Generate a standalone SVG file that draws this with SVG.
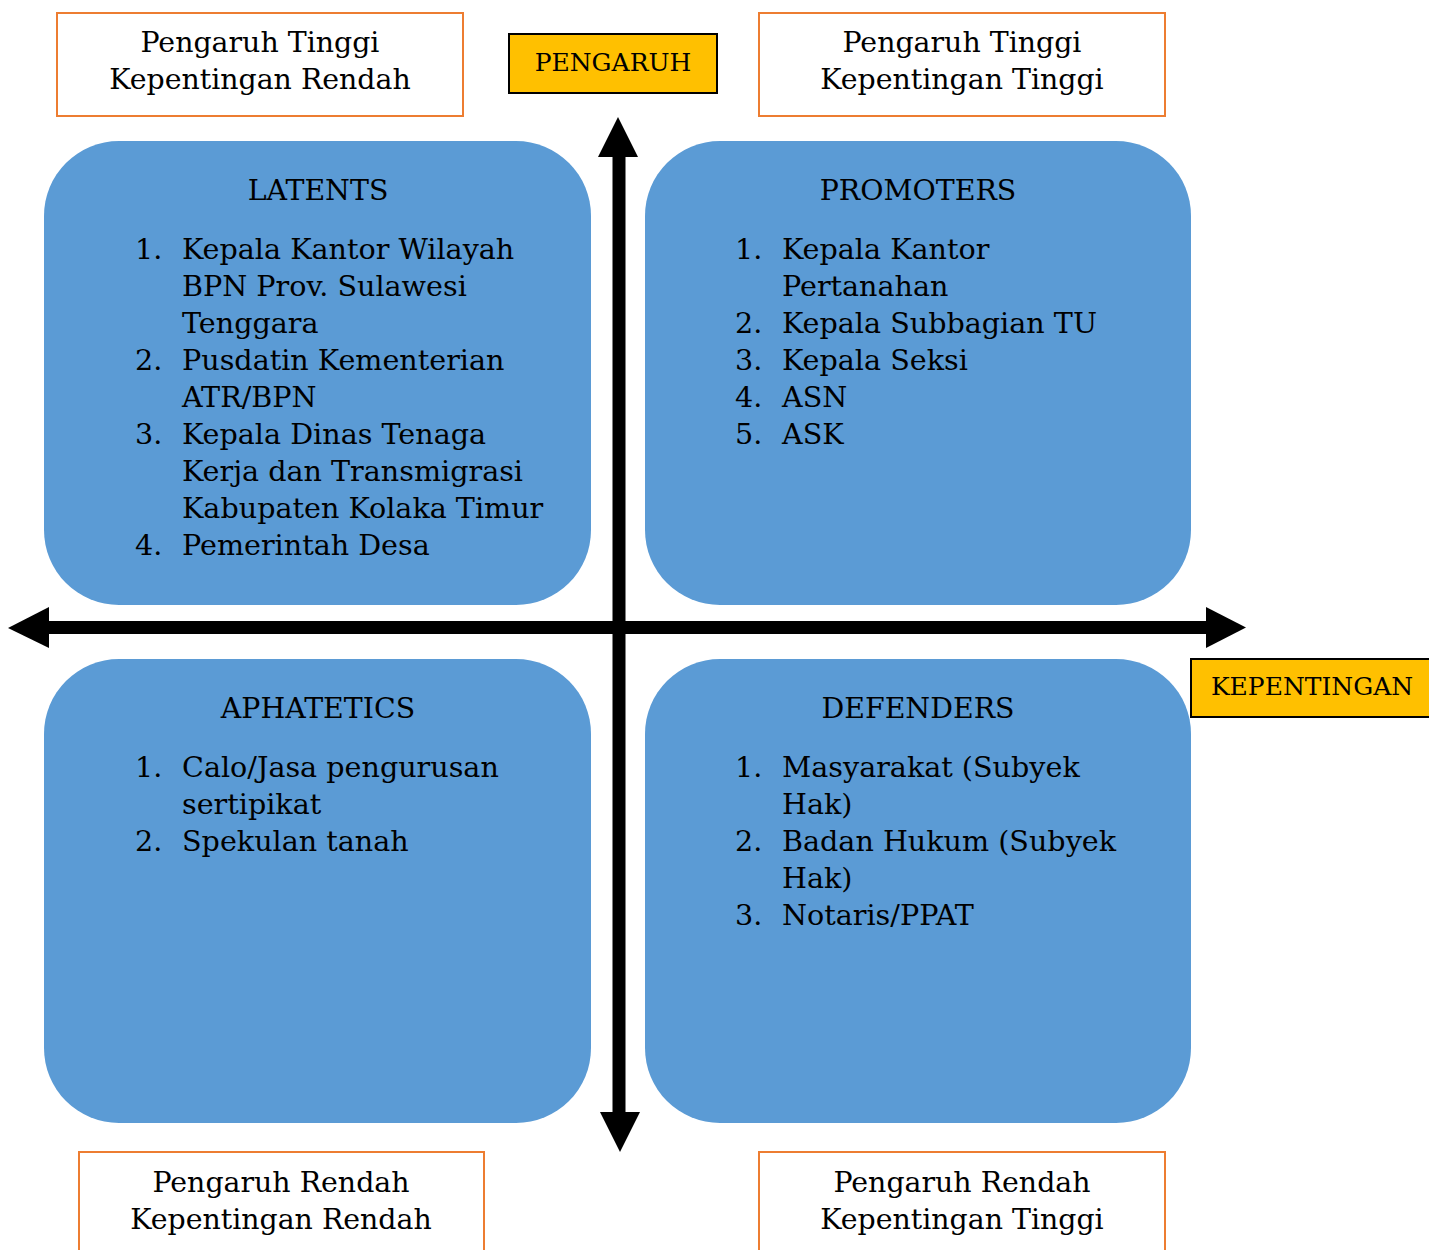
<svg xmlns="http://www.w3.org/2000/svg" width="1429" height="1250" viewBox="0 0 1429 1250">
<style>
.lbl{fill:#fff;stroke:#ED7D31;stroke-width:2}
.axl{fill:#FFC000;stroke:#000;stroke-width:2}
.quad{fill:#5B9BD5}
text{font-family:"DejaVu Serif","Liberation Serif",serif;fill:#000}
.t{font-size:28.4px;text-anchor:middle}
.a{font-size:25px;text-anchor:middle}
.l{font-size:28.6px}
.ax{stroke:#000;stroke-width:13;fill:none}
</style>
<g id="label-tl"><rect class="lbl" x="57" y="13" width="406" height="103"/><text class="t" x="260" y="52">Pengaruh Tinggi</text><text class="t" x="260" y="89">Kepentingan Rendah</text></g>
<g id="label-tr"><rect class="lbl" x="759" y="13" width="406" height="103"/><text class="t" x="962" y="52">Pengaruh Tinggi</text><text class="t" x="962" y="89">Kepentingan Tinggi</text></g>
<g id="label-bl"><rect class="lbl" x="79" y="1152" width="405" height="110"/><text class="t" x="281" y="1192">Pengaruh Rendah</text><text class="t" x="281" y="1229">Kepentingan Rendah</text></g>
<g id="label-br"><rect class="lbl" x="759" y="1152" width="406" height="110"/><text class="t" x="962" y="1192">Pengaruh Rendah</text><text class="t" x="962" y="1229">Kepentingan Tinggi</text></g>
<g id="axis-pengaruh"><rect class="axl" x="509" y="34" width="208" height="59"/><text class="a" x="613" y="71">PENGARUH</text></g>
<g id="axis-kepentingan"><rect class="axl" x="1191" y="659" width="245" height="58"/><text class="a" x="1312" y="695">KEPENTINGAN</text></g>
<g id="latents"><rect class="quad" x="44" y="141" width="547" height="464" rx="75"/>
<text class="t" x="318" y="200">LATENTS</text>
<text class="l" x="135" y="259">1.</text><text class="l" x="182" y="259">Kepala Kantor Wilayah</text>
<text class="l" x="182" y="296">BPN Prov. Sulawesi</text>
<text class="l" x="182" y="333">Tenggara</text>
<text class="l" x="135" y="370">2.</text><text class="l" x="182" y="370">Pusdatin Kementerian</text>
<text class="l" x="182" y="407">ATR/BPN</text>
<text class="l" x="135" y="444">3.</text><text class="l" x="182" y="444">Kepala Dinas Tenaga</text>
<text class="l" x="182" y="481">Kerja dan Transmigrasi</text>
<text class="l" x="182" y="518">Kabupaten Kolaka Timur</text>
<text class="l" x="135" y="555">4.</text><text class="l" x="182" y="555">Pemerintah Desa</text>
</g>
<g id="promoters"><rect class="quad" x="645" y="141" width="546" height="464" rx="75"/>
<text class="t" x="918" y="200">PROMOTERS</text>
<text class="l" x="735" y="259">1.</text><text class="l" x="782" y="259">Kepala Kantor</text>
<text class="l" x="782" y="296">Pertanahan</text>
<text class="l" x="735" y="333">2.</text><text class="l" x="782" y="333">Kepala Subbagian TU</text>
<text class="l" x="735" y="370">3.</text><text class="l" x="782" y="370">Kepala Seksi</text>
<text class="l" x="735" y="407">4.</text><text class="l" x="782" y="407">ASN</text>
<text class="l" x="735" y="444">5.</text><text class="l" x="782" y="444">ASK</text>
</g>
<g id="aphatetics"><rect class="quad" x="44" y="659" width="547" height="464" rx="75"/>
<text class="t" x="318" y="718">APHATETICS</text>
<text class="l" x="135" y="777">1.</text><text class="l" x="182" y="777">Calo/Jasa pengurusan</text>
<text class="l" x="182" y="814">sertipikat</text>
<text class="l" x="135" y="851">2.</text><text class="l" x="182" y="851">Spekulan tanah</text>
</g>
<g id="defenders"><rect class="quad" x="645" y="659" width="546" height="464" rx="75"/>
<text class="t" x="918" y="718">DEFENDERS</text>
<text class="l" x="735" y="777">1.</text><text class="l" x="782" y="777">Masyarakat (Subyek</text>
<text class="l" x="782" y="814">Hak)</text>
<text class="l" x="735" y="851">2.</text><text class="l" x="782" y="851">Badan Hukum (Subyek</text>
<text class="l" x="782" y="888">Hak)</text>
<text class="l" x="735" y="925">3.</text><text class="l" x="782" y="925">Notaris/PPAT</text>
</g>
<g id="connectors">
<line class="ax" x1="619" y1="150" x2="619" y2="1118"/>
<line class="ax" x1="42" y1="627.5" x2="1212" y2="627.5"/>
<polygon points="618,117 598,157 638,157" fill="#000"/>
<polygon points="620,1152 600,1112 640,1112" fill="#000"/>
<polygon points="8,628 49,607 49,648" fill="#000"/>
<polygon points="1246,627.5 1206,607 1206,648" fill="#000"/>
</g>
</svg>
